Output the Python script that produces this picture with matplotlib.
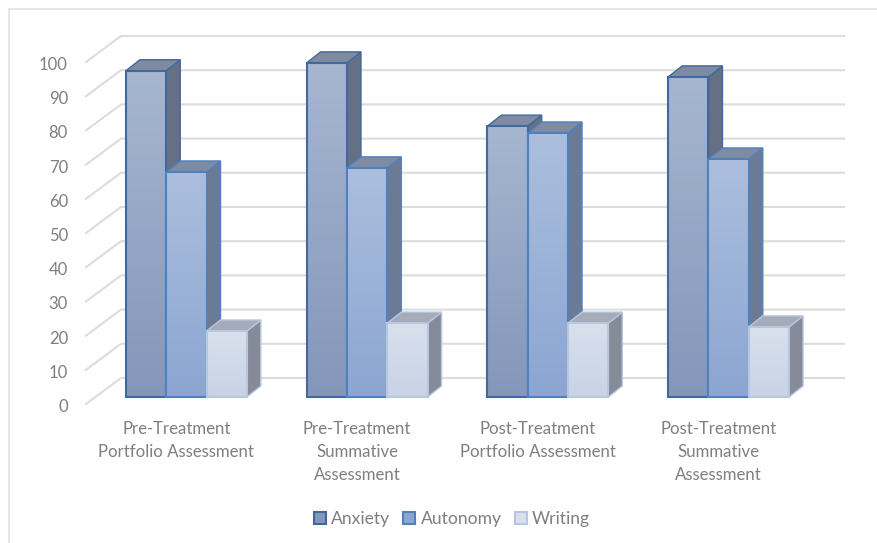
import numpy as np
import matplotlib
matplotlib.use('Agg')
import matplotlib.pyplot as plt
from matplotlib.colors import LinearSegmentedColormap
from matplotlib.lines import Line2D
from matplotlib.patches import Patch, Polygon
from matplotlib.transforms import ScaledTranslation

plt.rcParams['font.family'] = ['Lato', 'DejaVu Sans']

# Data
categories = ['Pre-Treatment\nPortfolio Assessment',
              'Pre-Treatment\nSummative\nAssessment',
              'Post-Treatment\nPortfolio Assessment',
              'Post-Treatment\nSummative\nAssessment']
series_names = ['Anxiety', 'Autonomy', 'Writing']
anxiety = [95.4, 97.7, 79.2, 93.6]
autonomy = [65.8, 67.0, 77.2, 69.6]
writing = [19.3, 21.6, 21.6, 20.5]
y_ticks = [0, 10, 20, 30, 40, 50, 60, 70, 80, 90, 100]

# Colours per series: front top, front bottom, edge, side, roof
styles = [
    ('#a6b6d1', '#8497ba', '#41699d', '#667085', '#7e8ba3'),
    ('#abbedd', '#8ca6d2', '#4f81bd', '#6b7b95', '#7e8ba3'),
    ('#d9e0ed', '#c8d3e6', '#b7c7e0', '#858b98', '#a5abb8'),
]

W, H = 877, 543
fig = plt.figure(figsize=(W / 100, H / 100), dpi=100)
ax = fig.add_axes([86 / W, 1 - 404 / H, (809 - 86) / W, (404 - 62) / H])
ax.set_xlim(-0.5, 3.5)
ax.set_ylim(0, 100)
ax.patch.set_visible(False)
for s in ax.spines.values():
    s.set_visible(False)

# pixel sizes converted to data units
px_x = 180.75
px_y = 3.42
wall_dx, wall_dy = 35 / px_x, 26 / px_y
plane_dx, plane_dy = 10 / px_x, 7 / px_y
bar_dx, bar_dy = 14 / px_x, 11 / px_y
bar_w = 40.3 / px_x

# chart frame
frame = '#e2e2e2'
fig.add_artist(Line2D([8.5 / W, 1], [1 - 9 / H, 1 - 9 / H], color=frame, lw=1.2))
fig.add_artist(Line2D([8.5 / W, 8.5 / W], [1 - 9 / H, 0], color=frame, lw=1.2))

# walls
for t in y_ticks:
    ax.plot([-0.5, -0.5 + wall_dx, 3.5 + wall_dx], [t, t + wall_dy, t + wall_dy],
            color='#dcdcdc', lw=1.5, clip_on=False, zorder=1, solid_joinstyle='miter')

all_series = [anxiety, autonomy, writing]
z = 3
for i in range(len(categories)):
    for j, vals in enumerate(all_series):
        top_c, bot_c, edge, side, roof = styles[j]
        v = vals[i]
        x0 = i - 1.5 * bar_w + j * bar_w + plane_dx
        x1 = x0 + bar_w
        y0 = plane_dy
        y1 = v + plane_dy
        side_poly = Polygon([(x1, y0), (x1 + bar_dx, y0 + bar_dy),
                             (x1 + bar_dx, y1 + bar_dy), (x1, y1)],
                            facecolor=side, edgecolor=edge, lw=1, clip_on=False, zorder=z)
        roof_poly = Polygon([(x0, y1), (x0 + bar_dx, y1 + bar_dy),
                             (x1 + bar_dx, y1 + bar_dy), (x1, y1)],
                            facecolor=roof, edgecolor=edge, lw=1, clip_on=False, zorder=z)
        ax.add_patch(side_poly)
        ax.add_patch(roof_poly)
        ax.bar(x0, v, width=bar_w, bottom=y0, align='edge', facecolor='none',
               edgecolor=edge, linewidth=1.5, clip_on=False, zorder=z + 0.2)
        # vertical gradient on the front face
        cmap = LinearSegmentedColormap.from_list('f', [top_c, bot_c])
        ax.imshow(np.linspace(0, 1, 64).reshape(-1, 1), cmap=cmap, aspect='auto',
                  extent=(x0, x1, y0, y1), origin='upper', clip_on=False, zorder=z + 0.1)
        z += 1

ax.set_xlim(-0.5, 3.5)
ax.set_ylim(0, 100)

txt = '#7f7f7f'
ax.set_yticks(y_ticks)
ax.set_xticks(range(len(categories)))
ax.set_xticklabels(categories, linespacing=1.55)
ax.tick_params(axis='y', length=0, pad=13, labelsize=12, labelcolor=txt)
ax.tick_params(axis='x', length=0, pad=12, labelsize=12.1, labelcolor=txt)
# the axis labels sit slightly under the wall lines
nudge = ScaledTranslation(0, -1.5 / 100, fig.dpi_scale_trans)
for lab in ax.get_yticklabels():
    lab.set_verticalalignment('center_baseline')
    lab.set_transform(lab.get_transform() + nudge)

handles = [Patch(facecolor=(styles[k][0] if k == 2 else styles[k][1]), edgecolor=styles[k][2], lw=1.5, label=series_names[k])
           for k in range(3)]
fig.legend(handles=handles, loc='center', bbox_to_anchor=(452 / W, 1 - 519 / H), ncol=3,
           frameon=False, fontsize=12.6, labelcolor=txt, handlelength=0.68, handleheight=0.68,
           handletextpad=0.3, columnspacing=0.75)

fig.savefig('out.png', dpi=100)
